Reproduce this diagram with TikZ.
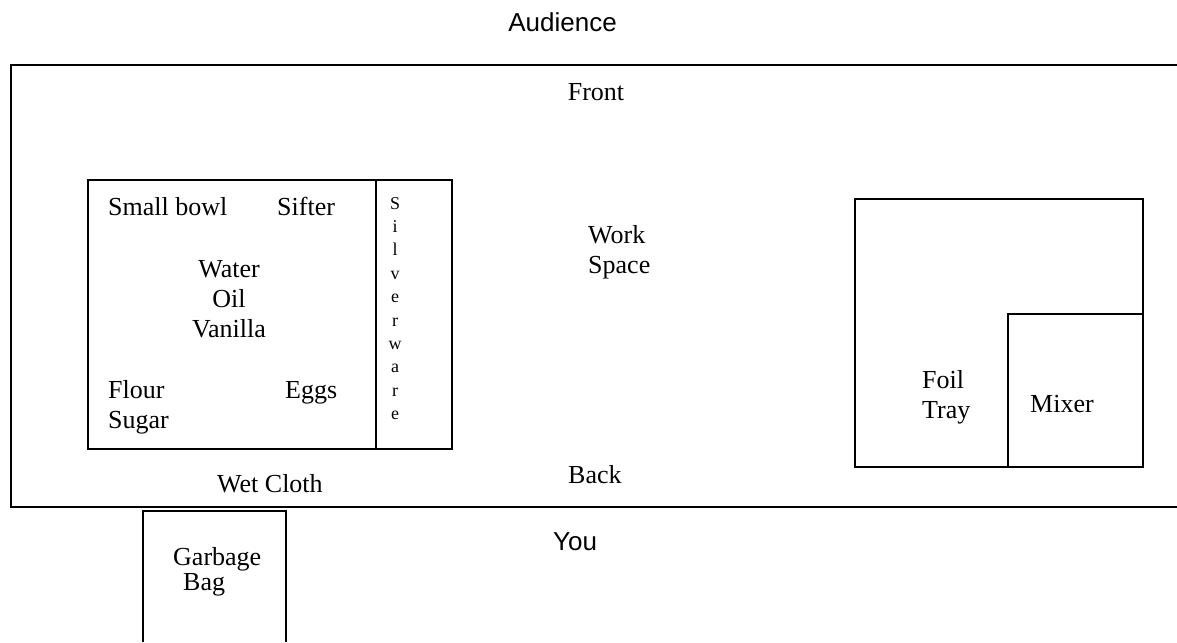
\documentclass[tikz,border=0pt]{standalone}
\usepackage{fontspec}
\setmainfont{Liberation Serif}
\setsansfont{Liberation Sans}
\usetikzlibrary{positioning}

\begin{document}
\begin{tikzpicture}[x=1pt, y=-1pt,
    lbl/.style={inner sep=0pt, anchor=base west, align=left,
                font=\fontsize{26}{30}\selectfont},
    mid/.style={inner sep=0pt, anchor=base, align=center,
                font=\fontsize{26}{30}\selectfont},
    side/.style={inner sep=0pt, anchor=base west,
                 font=\sffamily\fontsize{26}{30}\selectfont},
    silver/.style={inner sep=0pt, anchor=base,
                   font=\fontsize{18}{22}\selectfont},
    wall/.style={draw=black, line width=1.5pt},
  ]
    \useasboundingbox (0,0) rectangle (1177,642);

    % table, open on the right
    \draw[wall] (1177,65) -- (11,65) -- (11,507) -- (1177,507);
    % ingredients and silverware
    \draw[wall] (88,180) rectangle (452,449);
    \draw[wall] (376,180) -- (376,449);
    % foil tray and mixer
    \draw[wall] (855,199) rectangle (1143,467);
    \draw[wall] (1008,314) rectangle (1143,467);
    % garbage bag
    \draw[wall, line width=1.2pt] (143,642) -- (143,511) -- (286,511) -- (286,642);

    % multi-line nodes sit on the baseline of their last line
    \node[side, anchor=base east] (audience) at (617,32) {Audience};
    \node[mid] (front) at (596,100) {Front};

    \node[lbl] (bowl) at (108,215) {Small bowl};
    \node[lbl] (sifter) at (277,215) {Sifter};
    \node[mid] (liquids) at (229,337) {Water\\Oil\\Vanilla};
    \node[lbl] (dry) at (108,428) {Flour\\Sugar};
    \node[lbl] (eggs) at (285,398) {Eggs};

    \foreach \ch [count=\i] in {S,i,l,v,e,r,w,a,r,e}
      \node[silver] (sw\i) at (395,{209+23.4*(\i-1)}) {\ch};

    \node[lbl] (work) at (588,273) {Work\\Space};
    \node[lbl] (foil) at (922,418) {Foil\\Tray};
    \node[lbl] (mixer) at (1030,412) {Mixer};

    \node[lbl] (back) at (568,483) {Back};
    \node[lbl] (cloth) at (217,492) {Wet Cloth};
    \node[side] (you) at (553,550) {You};
    \node[lbl] (garbage) at (173,590) {Garbage\\[-5pt]\hspace{10pt}Bag};
  \end{tikzpicture}
\end{document}
